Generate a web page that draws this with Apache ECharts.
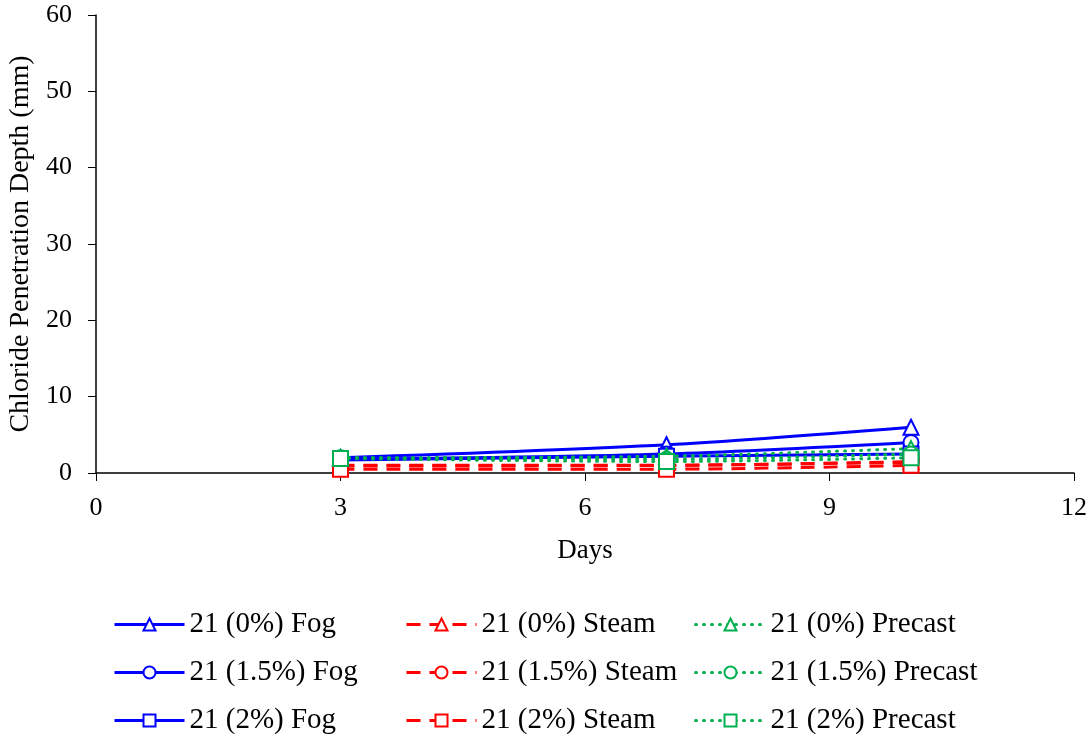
<!DOCTYPE html>
<html>
<head>
<meta charset="utf-8">
<script src="https://cdn.jsdelivr.net/npm/echarts@6/dist/echarts.min.js"></script>
<style>
  html, body { margin: 0; padding: 0; background: #fff; }
  #chart { width: 1090px; height: 734px; }
</style>
</head>
<body>
<div id="chart"></div>
<script>
// x 轴天数
var days = [3, 7, 10];
// 各系列数据 (mm)
var fog0 = [2.0, 3.7, 6.0];
var fog15 = [1.8, 2.5, 4.0];
var fog2 = [1.7, 2.2, 2.5];
var steam0 = [1.0, 1.0, 1.5];
var steam15 = [0.9, 1.0, 1.4];
var steam2 = [0.5, 0.5, 1.0];
var precast0 = [2.0, 2.2, 3.2];
var precast15 = [2.0, 1.8, 2.5];
var precast2 = [1.9, 1.5, 2.0];

var names = [
  '21 (0%) Fog', '21 (1.5%) Fog', '21 (2%) Fog',
  '21 (0%) Steam', '21 (1.5%) Steam', '21 (2%) Steam',
  '21 (0%) Precast', '21 (1.5%) Precast', '21 (2%) Precast'
];
var values = [fog0, fog15, fog2, steam0, steam15, steam2, precast0, precast15, precast2];
var symbols = ['emptyTriangle', 'emptyCircle', 'emptyRect'];
var colors = ['#0000ff', '#ff0000', '#00b050'];
var lineTypes = ['solid', [14, 9], [1, 7]];
var caps = ['butt', 'butt', 'round'];

function pairs (arr) {
  return days.map(function (d, i) { return [d, arr[i]]; });
}

var font = 'Liberation Serif';
var chart = echarts.init(document.getElementById('chart'));
var series = values.map(function (v, i) {
  var g = Math.floor(i / 3);
  return {
    name: names[i],
    type: 'line',
    data: pairs(v),
    smooth: 0.3,
    symbol: symbols[i % 3],
    symbolSize: 15,
    lineStyle: { width: 3, color: colors[g], type: lineTypes[g], cap: caps[g] },
    itemStyle: { color: colors[g], borderWidth: 2 }
  };
});

// 图例：三列，每列三行
function legend (left, data) {
  return {
    orient: 'vertical',
    left: left,
    top: 605,
    height: 140,
    itemWidth: 70,
    itemHeight: 15,
    itemGap: 19,
    data: data,
    lineStyle: { width: 3 },
    textStyle: { fontFamily: font, fontSize: 29, color: '#000' }
  };
}

var option = {
  animation: false,
  grid: { left: 96, right: 16, top: 15, bottom: 261, outerBoundsMode: 'none' },
  legend: [
    legend(108, names.slice(0, 3)),
    legend(400, names.slice(3, 6)),
    legend(689, names.slice(6, 9))
  ],
  xAxis: {
    type: 'value',
    min: 0,
    max: 12,
    interval: 3,
    name: 'Days',
    nameLocation: 'middle',
    nameGap: 64,
    nameTextStyle: { fontFamily: font, fontSize: 27, color: '#000' },
    axisLine: { lineStyle: { color: '#000', width: 1.5 } },
    axisTick: { show: true, length: 8, lineStyle: { color: '#000' } },
    axisLabel: { fontFamily: font, fontSize: 26, color: '#000', margin: 22 },
    splitLine: { show: false }
  },
  yAxis: {
    type: 'value',
    min: 0,
    max: 60,
    interval: 10,
    name: 'Chloride Penetration Depth (mm)',
    nameLocation: 'middle',
    nameGap: 61,
    nameTextStyle: { fontFamily: font, fontSize: 28, color: '#000' },
    axisLine: { show: true, lineStyle: { color: '#000', width: 1.5 } },
    axisTick: { show: true, length: 8, lineStyle: { color: '#000' } },
    axisLabel: { fontFamily: font, fontSize: 26, color: '#000', margin: 24 },
    splitLine: { show: false }
  },
  series: series
};
chart.setOption(option);
</script>
</body>
</html>
